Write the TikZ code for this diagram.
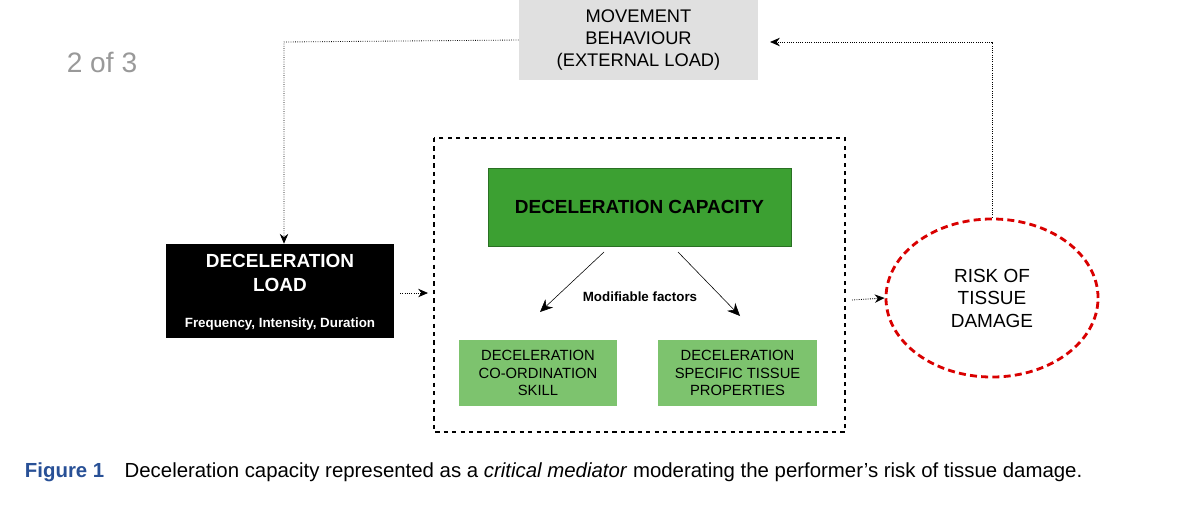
\documentclass[tikz,border=0pt]{standalone}
\usepackage{fontspec}
\setmainfont{Liberation Sans}
\usetikzlibrary{positioning,shapes.geometric,arrows.meta}
\definecolor{darkgreen}{RGB}{60,160,50}
\definecolor{lightgreen}{RGB}{125,195,110}
\definecolor{boxgray}{RGB}{224,224,224}
\definecolor{capblue}{RGB}{40,80,150}
\tikzset{
  dotarrow/.style={-{Stealth[length=7pt,width=6pt]},densely dotted,semithick},
  factorbox/.style={fill=lightgreen,minimum width=3.95cm,minimum height=1.65cm,align=center,font=\fontsize{10.5}{12.5}\selectfont},
}
\begin{document}
\begin{tikzpicture}[x=0.025cm,y=-0.025cm]
  \useasboundingbox (0,0) rectangle (1200,506);
  \node[text=gray!80,font=\fontsize{20}{24}\selectfont] (page) at (102,62) {2 of 3};
  \node[fill=boxgray,minimum width=5.975cm,minimum height=2cm,align=center,font=\fontsize{13}{15.5}\selectfont] (movement) at (638.5,40) {MOVEMENT\\BEHAVIOUR\\(EXTERNAL LOAD)};
  \node[fill=black,minimum width=5.7cm,minimum height=2.35cm] (load) at (280,291) {};
  \node[text=white,font=\bfseries\fontsize{13.5}{16.5}\selectfont,align=center] (loadtext) at (280,273) {DECELERATION\\LOAD};
  \node[text=white,font=\bfseries\fontsize{9.5}{11}\selectfont] (loadsub) at (280,324) {Frequency, Intensity, Duration};
  \draw[dashed,thick] (434,138) rectangle (845,432);
  \node[fill=darkgreen,draw=darkgreen!70!black,minimum width=7.575cm,minimum height=1.95cm,font=\bfseries\fontsize{13.5}{16}\selectfont] (capacity) at (639.5,207) {DECELERATION CAPACITY};
  \node[font=\bfseries\fontsize{9.5}{11}\selectfont] (modifiable) at (640,297) {Modifiable factors};
  \node[factorbox] (skill) at (538,373) {DECELERATION\\CO-ORDINATION\\SKILL};
  \node[factorbox] (tissue) at (737.5,373) {DECELERATION\\SPECIFIC TISSUE\\PROPERTIES};
  \draw[-{Stealth[length=9pt,width=8pt]}] (604,252) -- (540,312);
  \draw[-{Stealth[length=9pt,width=8pt]}] (678,252) -- (740,316);
  \node[ellipse,draw=red!85!black,line width=2pt,dash pattern=on 5pt off 3pt,minimum width=5.3cm,minimum height=3.95cm,align=center,font=\fontsize{13.5}{16}\selectfont] (risk) at (992,298) {RISK OF\\TISSUE\\DAMAGE};
  \coordinate (c1) at (284,42);
  \coordinate (c2) at (992,42);
  \coordinate (c3) at (770,42);
  \coordinate (c4) at (400,293);
  \coordinate (c5) at (428,293);
  \coordinate (c6) at (852,300);
  \draw[dotarrow] (movement.west) -- (c1) -- (load.north -| c1);
  \draw[dotarrow] (c4) -- (c5);
  \draw[dotarrow] (c6) -- (risk.west);
  \draw[dotarrow] (risk.north) -- (c2) -- (c3);
  \node[anchor=west,font=\fontsize{14.5}{17}\selectfont] (caption) at (20,472) {\textcolor{capblue}{\textbf{Figure 1}}\quad Deceleration capacity represented as a \textit{critical mediator} moderating the performer’s risk of tissue damage.};
\end{tikzpicture}
\end{document}
